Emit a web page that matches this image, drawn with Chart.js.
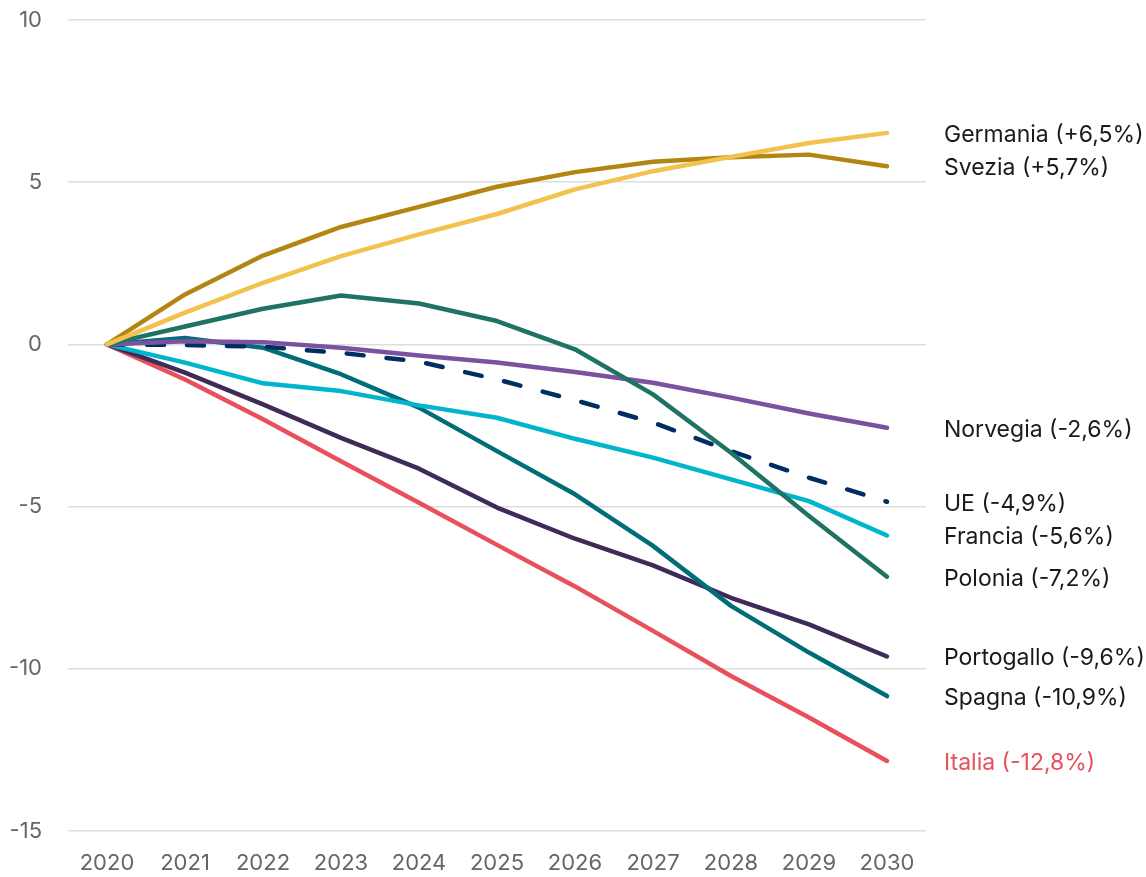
<!DOCTYPE html>
<html>
<head>
<meta charset="utf-8">
<script src="https://cdn.jsdelivr.net/npm/chart.js@4/dist/chart.umd.min.js"></script>
<style>
  html, body { margin: 0; padding: 0; background: #fff; }
  #wrap { width: 1146px; height: 877px; }
</style>
</head>
<body>
<div id="wrap"><canvas id="chart" width="1146" height="877"></canvas></div>
<script>
var years = ["2020", "2021", "2022", "2023", "2024", "2025", "2026", "2027", "2028", "2029", "2030"];

var germania   = [0, 0.98, 1.9, 2.72, 3.39, 4.02, 4.78, 5.34, 5.78, 6.21, 6.52];
var svezia     = [0, 1.54, 2.74, 3.62, 4.24, 4.86, 5.31, 5.63, 5.77, 5.85, 5.49];
var polonia    = [0, 0.55, 1.1, 1.51, 1.26, 0.72, -0.15, -1.54, -3.34, -5.29, -7.16];
var norvegia   = [0, 0.1, 0.07, -0.1, -0.34, -0.56, -0.85, -1.18, -1.64, -2.13, -2.57];
var ue         = [0, -0.02, -0.07, -0.26, -0.53, -1.08, -1.72, -2.41, -3.29, -4.11, -4.85];
var francia    = [0, -0.56, -1.2, -1.44, -1.88, -2.26, -2.91, -3.49, -4.16, -4.83, -5.89];
var spagna     = [0, 0.2, -0.1, -0.92, -1.95, -3.29, -4.62, -6.21, -8.06, -9.5, -10.84];
var portogallo = [0, -0.87, -1.85, -2.88, -3.83, -5.03, -5.99, -6.81, -7.81, -8.63, -9.62];
var italia     = [0, -1.08, -2.31, -3.6, -4.88, -6.18, -7.46, -8.83, -10.22, -11.5, -12.84];

var endLabels = ["Germania (+6,5%)", "Svezia (+5,7%)", "Polonia (-7,2%)", "Norvegia (-2,6%)", "UE (-4,9%)",
                 "Francia (-5,6%)", "Spagna (-10,9%)", "Portogallo (-9,6%)", "Italia (-12,8%)"];

var FONT = "Inter, 'Noto Sans', sans-serif";

function line(label, data, color, dashed) {
  return {
    label: label,
    data: data,
    borderColor: color,
    backgroundColor: color,
    borderWidth: 4.5,
    borderCapStyle: 'round',
    borderJoinStyle: 'round',
    borderDash: dashed ? [17, 23] : [],
    pointRadius: 0,
    tension: 0,
    fill: false
  };
}

// draws the country names at the end of each line
var endLabelPlugin = {
  id: 'endLabels',
  afterDatasetsDraw: function (chart) {
    var ctx = chart.ctx;
    ctx.save();
    ctx.font = "23px " + FONT;
    ctx.textBaseline = 'middle';
    ctx.textAlign = 'left';
    chart.data.datasets.forEach(function (ds, i) {
      var meta = chart.getDatasetMeta(i);
      var last = meta.data[meta.data.length - 1];
      ctx.fillStyle = ds.label === "Italia" ? "#E8505B" : "#1a1a1a";
      ctx.fillText(endLabels[i], chart.chartArea.right + 18, last.y + 2);
    });
    ctx.restore();
  }
};

new Chart(document.getElementById("chart"), {
  type: 'line',
  data: {
    labels: years,
    datasets: [
      line("Germania", germania, "#F2C14E"),
      line("Svezia", svezia, "#B38612"),
      line("Polonia", polonia, "#1F7363"),
      line("Norvegia", norvegia, "#7A529F"),
      line("UE", ue, "#002E63", true),
      line("Francia", francia, "#00B5CC"),
      line("Spagna", spagna, "#006E78"),
      line("Portogallo", portogallo, "#3F2B58"),
      line("Italia", italia, "#E8505B")
    ]
  },
  options: {
    responsive: false,
    animation: false,
    layout: { padding: { top: 20, right: 220, bottom: 0, left: 0 } },
    plugins: {
      legend: { display: false },
      tooltip: { enabled: false }
    },
    scales: {
      x: {
        offset: true,
        grid: { display: false, drawTicks: false },
        border: { display: false },
        ticks: { color: "#666", font: { family: FONT, size: 22 }, padding: 19, maxRotation: 0 },
        afterFit: function (scale) { scale.height = 46; }
      },
      y: {
        min: -15,
        max: 10,
        grid: { color: "#dddddd", lineWidth: 1.5, drawTicks: false },
        border: { display: false },
        ticks: { stepSize: 5, color: "#666", font: { family: FONT, size: 22 }, padding: 26 },
        afterFit: function (scale) {
          scale.width = 68;
          // tick padding would otherwise push the plot down
          scale.paddingTop = 0;
          scale.paddingBottom = 0;
        }
      }
    }
  },
  plugins: [endLabelPlugin]
});
</script>
</body>
</html>
